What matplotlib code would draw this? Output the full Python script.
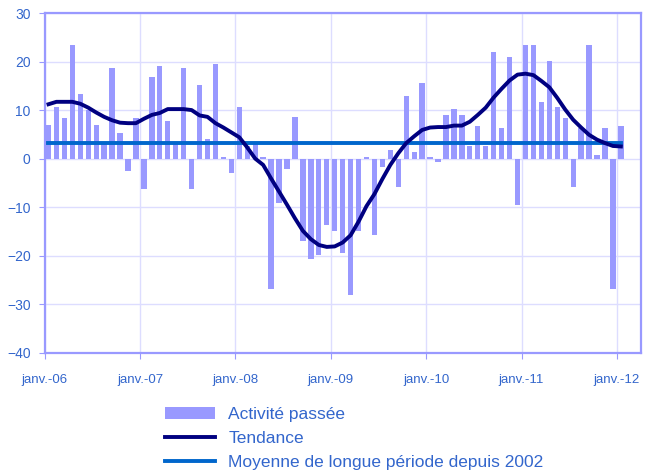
import numpy as np
import matplotlib.pyplot as plt

plt.rcParams['font.family'] = ['Liberation Sans', 'DejaVu Sans']

# Monthly balance of opinion, janv. 2006 -> janv. 2012
activite = [
    7.0, 10.7, 8.4, 23.5, 13.4, 10.1, 7.0, 3.2, 18.6, 5.3, -2.5, 8.4,        # 2006
    -6.2, 16.9, 19.0, 7.8, 3.0, 18.6, -6.3, 15.2, 4.1, 19.4, 0.4, -2.9,      # 2007
    10.7, 2.5, 3.0, 0.3, -26.9, -9.1, -2.1, 8.6, -17.0, -20.7, -19.9, -13.7,  # 2008
    -14.9, -19.4, -28.1, -14.9, 0.3, -15.7, -1.7, 1.8, -5.8, 12.8, 1.4, 15.6,  # 2009
    0.4, -0.8, 9.0, 10.3, 9.0, 2.5, 6.8, 2.5, 21.9, 6.3, 21.0, -9.5,          # 2010
    23.5, 23.5, 11.7, 20.2, 10.7, 8.4, -5.8, 6.4, 23.5, 0.8, 6.3, -26.9,      # 2011
    6.8,                                                                     # 2012
]
tendance = [
    11.2, 11.7, 11.7, 11.7, 11.3, 10.5, 9.5, 8.6, 7.9, 7.4, 7.3, 7.3,
    8.2, 9.0, 9.4, 10.2, 10.2, 10.2, 10.0, 8.9, 8.6, 7.3, 6.4, 5.4,
    4.4, 2.3, 0.0, -1.3, -4.1, -6.8, -9.5, -12.3, -14.9, -16.6, -17.8, -18.2,
    -18.1, -17.3, -15.8, -13.0, -9.8, -7.3, -4.2, -1.3, 1.1, 3.2, 4.6, 5.9,
    6.4, 6.5, 6.5, 6.8, 6.8, 7.6, 9.0, 10.5, 12.6, 14.4, 16.1, 17.3,
    17.5, 17.2, 16.0, 14.7, 12.5, 10.1, 8.0, 6.4, 4.9, 3.9, 3.2, 2.6,
    2.5,
]
moyenne = 3.3
annees = ["janv.-06", "janv.-07", "janv.-08", "janv.-09", "janv.-10", "janv.-11", "janv.-12"]

mois = np.arange(len(activite)) + 0.5

fig = plt.figure(figsize=(6.49, 4.70), dpi=100)
ax = fig.add_axes([0.0686, 0.2496, 0.9187, 0.7227])

ax.bar(mois, activite, width=0.67, color="#9999FF", label="Activité passée", zorder=2)
ax.plot(mois, [moyenne] * len(mois), color="#0066CC", lw=2.8,
        label="Moyenne de longue période depuis 2002", zorder=3)
ax.plot(mois, tendance, color="#000080", lw=2.8, label="Tendance", zorder=4)

ax.set_xlim(0, 75)
ax.set_ylim(-40, 30)
ax.set_yticks(range(-40, 31, 10))
ax.set_xticks(np.arange(0, 73, 12))
ax.set_xticklabels(annees)

ax.grid(True, color="#DDDDFF", lw=1, zorder=0)
ax.set_axisbelow(True)
for s in ax.spines.values():
    s.set_color("#9999FF")
    s.set_linewidth(1.6)
ax.tick_params(colors="#9999FF", labelcolor="#3366CC", length=4)
ax.tick_params(axis="x", pad=11, labelsize=9.5)
ax.tick_params(axis="y", pad=6, labelsize=10)

# --- legend below the plot ---
h, l = ax.get_legend_handles_labels()
order = [2, 1, 0]
fig.legend([h[i] for i in order], [l[i] for i in order],
           loc="upper left", bbox_to_anchor=(0.254, 0.134), frameon=False,
           fontsize=12.5, labelcolor="#3366CC", handlelength=2.9, handletextpad=0.75,
           labelspacing=0.5, borderpad=0, borderaxespad=0)

fig.savefig("out.png", dpi=100)
